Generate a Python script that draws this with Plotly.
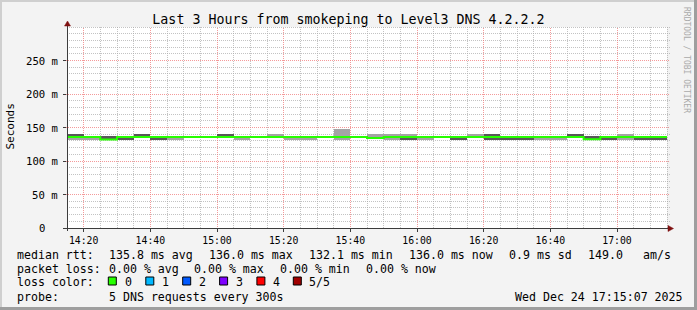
import math
import plotly.graph_objects as go
import pandas as pd

# ---------------- data ----------------
title_text = "Last 3 Hours from smokeping to Level3 DNS 4.2.2.2"
step_start = pd.date_range("2025-12-24 14:15", periods=36, freq="5min")
range_start = pd.Timestamp("2025-12-24 14:15")
range_end = pd.Timestamp("2025-12-24 17:15")

# median rtt per 5-minute step (ms)
median = [136.0, 136.0, 132.1, 136.0, 136.0, 136.0, 136.0, 136.0, 136.0, 136.0,
          136.0, 136.0, 136.0, 136.0, 136.0, 136.0, 136.0, 136.0, 134.2, 136.0,
          136.0, 136.0, 136.0, 136.0, 136.0, 136.0, 136.0, 136.0, 136.0, 136.0,
          136.0, 132.3, 136.0, 136.0, 136.0, 136.0]
# sorted pings: p1 (min), p2, p4, p5 (max)  (ms)
p1 = [131.5, 131.5, 131.0, 131.5, 136.0, 131.5, 131.5, 135.8, 135.8, 136.0,
      131.5, 135.8, 136.0, 131.5, 131.5, 135.8, 131.5, 135.8, 133.0, 131.5,
      131.5, 131.5, 135.8, 131.5, 136.0, 131.5, 131.5, 131.5, 131.5, 131.5,
      136.0, 131.0, 131.5, 131.5, 131.5, 131.5]
p2 = [136.0, 136.0, 131.3, 131.5, 136.0, 131.5, 136.0, 136.0, 136.0, 136.0,
      136.0, 136.0, 136.0, 136.0, 136.0, 136.0, 136.0, 136.0, 134.0, 136.0,
      131.5, 136.0, 136.0, 131.5, 136.0, 131.5, 131.5, 131.5, 136.0, 136.0,
      136.0, 131.3, 131.5, 136.0, 131.5, 131.5]
p4 = [139.8, 136.0, 136.6, 136.0, 139.8, 136.0, 136.0, 136.0, 136.0, 139.8,
      136.0, 136.0, 136.0, 136.0, 136.0, 136.0, 136.0, 136.0, 134.4, 136.0,
      136.0, 136.0, 136.0, 136.0, 136.0, 139.8, 136.0, 136.0, 136.0, 136.0,
      139.8, 137.6, 136.0, 136.0, 136.0, 136.0]
p5 = [139.8, 136.0, 136.6, 136.0, 139.8, 136.0, 136.0, 136.2, 136.2, 139.8,
      136.0, 136.2, 139.8, 136.0, 136.0, 136.2, 147.2, 136.2, 139.6, 139.8,
      139.8, 136.0, 136.2, 136.0, 139.8, 139.8, 136.0, 136.0, 136.0, 136.0,
      139.8, 137.6, 136.0, 139.8, 136.0, 136.0]

y_tick_vals = [0, 50, 100, 150, 200, 250]
y_tick_text = ["0", "50 m", "100 m", "150 m", "200 m", "250 m"]
x_tick_vals = pd.date_range("2025-12-24 14:20", periods=9, freq="20min")
x_tick_text = ["14:20", "14:40", "15:00", "15:20", "15:40", "16:00", "16:20", "16:40", "17:00"]

rtt_labels = ["median rtt:", "135.8 ms avg", "136.0 ms max", "132.1 ms min",
              "136.0 ms now", "0.9 ms sd", "149.0", "am/s"]
loss_labels = ["packet loss:", "0.00 % avg", "0.00 % max", "0.00 % min", "0.00 % now"]
color_labels = ["0", "1", "2", "3", "4", "5/5"]
color_values = ["#26ff00", "#00b8ff", "#0059ff", "#7e00ff", "#ff0000", "#a00000"]
probe_labels = ["probe:", "5 DNS requests every 300s"]
date_label = "Wed Dec 24 17:15:07 2025"
watermark = "RRDTOOL / TOBI OETIKER"

# grid positions
x_minor_grid = pd.date_range("2025-12-24 14:15", "2025-12-24 17:15", freq="5min")
x_major_grid = x_tick_vals
y_minor_grid = list(range(10, 301, 10))
y_major_grid = [50, 100, 150, 200, 250]
Y_MAX = 300

# ---------------- layout geometry ----------------
W, H = 697, 310
L, R, T, B = 67, 30, 27, 82
PW = W - L - R
PH = H - T - B
Y0 = H - B


def PX(px):
    return (px - L) / PW


def PY(py):
    return (Y0 - py) / PH


def time_px(t):
    return L + PW * (t - range_start) / (range_end - range_start)


def val_py(v):
    return Y0 - PH * v / Y_MAX


def crisp(p):
    return math.floor(p) + 0.5


FONT = "DejaVu Sans Mono"
MGRID = "rgba(240,120,120,0.75)"
GRID = "rgba(170,170,170,0.7)"
AXIS = "#3c3c3c"
ARROW = "#7f1010"
LEG = 11.6

fig = go.Figure()

centers = step_start + pd.Timedelta(seconds=150)
outer_h = [b - a for a, b in zip(p1, p5)]
inner_h = [b - a for a, b in zip(p2, p4)]

fig.add_trace(go.Bar(x=centers, y=outer_h, base=p1, width=300000,
                     marker=dict(color="#a4a4a4", line=dict(width=0)),
                     hoverinfo="skip", showlegend=False))
fig.add_trace(go.Bar(x=centers, y=inner_h, base=p2, width=300000,
                     marker=dict(color="#585858", line=dict(width=0)),
                     hoverinfo="skip", showlegend=False))
fig.add_trace(go.Scatter(x=list(step_start) + [range_end], y=median + [median[-1]],
                         mode="lines", line=dict(color=color_values[0], width=2, shape="hv"),
                         hoverinfo="skip", showlegend=False))

shapes = []
# grid lines (snapped to pixel centres)
major_x_set = set(x_major_grid)
for gx in x_minor_grid:
    if gx in major_x_set or gx == range_start:
        continue
    xp = PX(crisp(time_px(gx)))
    shapes.append(dict(type="line", xref="paper", yref="paper", x0=xp, x1=xp, y0=0, y1=1,
                       line=dict(color=GRID, width=1, dash="1px,1px"), layer="below"))
for gy in y_minor_grid:
    if gy in y_major_grid:
        continue
    yp = PY(crisp(val_py(gy)))
    shapes.append(dict(type="line", xref="paper", yref="paper", x0=0, x1=PX(670), y0=yp, y1=yp,
                       line=dict(color=GRID, width=1, dash="1px,1px"), layer="below"))
for gx in x_major_grid:
    xp = PX(crisp(time_px(gx)))
    shapes.append(dict(type="line", xref="paper", yref="paper", x0=xp, x1=xp, y0=PY(231), y1=1,
                       line=dict(color=MGRID, width=1, dash="1px,1px"), layer="below"))
for gy in y_major_grid:
    yp = PY(crisp(val_py(gy)))
    shapes.append(dict(type="line", xref="paper", yref="paper", x0=PX(64), x1=PX(670), y0=yp, y1=yp,
                       line=dict(color=MGRID, width=1, dash="1px,1px"), layer="below"))

# image 3D border
shapes.append(dict(type="rect", xref="paper", yref="paper", x0=PX(0), x1=PX(W), y0=PY(0), y1=PY(2),
                   fillcolor="#cfcfcf", line=dict(width=0), layer="above"))
shapes.append(dict(type="rect", xref="paper", yref="paper", x0=PX(0), x1=PX(2), y0=PY(0), y1=PY(H),
                   fillcolor="#cfcfcf", line=dict(width=0), layer="above"))
shapes.append(dict(type="rect", xref="paper", yref="paper", x0=PX(0), x1=PX(W), y0=PY(H - 3), y1=PY(H),
                   fillcolor="#9e9e9e", line=dict(width=0), layer="above"))
shapes.append(dict(type="rect", xref="paper", yref="paper", x0=PX(W - 3), x1=PX(W), y0=PY(0), y1=PY(H),
                   fillcolor="#9e9e9e", line=dict(width=0), layer="above"))
# axes
shapes.append(dict(type="line", xref="paper", yref="paper", x0=PX(63), x1=PX(670), y0=PY(228.5), y1=PY(228.5),
                   line=dict(color=AXIS, width=1), layer="above"))
shapes.append(dict(type="line", xref="paper", yref="paper", x0=PX(67.5), x1=PX(67.5), y0=PY(231), y1=PY(24),
                   line=dict(color=AXIS, width=1), layer="above"))
shapes.append(dict(type="path", xref="paper", yref="paper",
                   path=f"M {PX(668)},{PY(225.5)} L {PX(673.5)},{PY(228.5)} L {PX(668)},{PY(231.5)} Z",
                   fillcolor=ARROW, line=dict(color=ARROW, width=0.5), layer="above"))
shapes.append(dict(type="path", xref="paper", yref="paper",
                   path=f"M {PX(64.5)},{PY(26)} L {PX(67.5)},{PY(21)} L {PX(70.5)},{PY(26)} Z",
                   fillcolor=ARROW, line=dict(color=ARROW, width=0.5), layer="above"))
# loss colour boxes
box_x = [108.3, 145.8, 182.7, 219.6, 256.9, 293.3]
lab_x = [123.6, 160.9, 197.8, 234.7, 272.0, 308.0]
for bx, c in zip(box_x, color_values):
    shapes.append(dict(type="rect", xref="paper", yref="paper", x0=PX(bx), x1=PX(bx + 8),
                       y0=PY(285), y1=PY(277), fillcolor=c, line=dict(color="#000000", width=1),
                       layer="above"))

annotations = []


def text(px, py, s, size=LEG, anchor="left", color="#000000"):
    annotations.append(dict(x=PX(px), y=PY(py), xref="paper", yref="paper", text=s,
                            showarrow=False, xanchor=anchor, yanchor="middle",
                            font=dict(family=FONT, size=size, color=color)))


# y-axis tick labels (number column right-aligned, unit after it)
for v, s in zip(y_tick_vals, y_tick_text):
    annotations.append(dict(x=PX(60), y=v, xref="paper", yref="y",
                            text=s if " " in s else s + "<span style='color:rgba(0,0,0,0)'>_m</span>",
                            showarrow=False, xanchor="right", yanchor="middle",
                            font=dict(family=FONT, size=10.6, color="#000000")))

rtt_x = [15, 106.6, 206.6, 306.6, 407, 507, 585.7, 641.2]
for px, s in zip(rtt_x, rtt_labels):
    text(px, 254.5, s)
loss_x = [15, 106.6, 192.3, 278, 364.3]
for px, s in zip(loss_x, loss_labels):
    text(px, 268.5, s)
text(15, 282, "loss color:")
for px, s in zip(lab_x, color_labels):
    text(px - 1, 282, s)
probe_x = [15, 106.6]
for px, s in zip(probe_x, probe_labels):
    text(px, 296.5, s)
text(685, 296.5, date_label, anchor="right")

annotations.append(dict(x=PX(10.5), y=PY(127), xref="paper", yref="paper", text="Seconds",
                        showarrow=False, textangle=-90, xanchor="center", yanchor="middle",
                        font=dict(family=FONT, size=11, color="#000000")))
annotations.append(dict(x=PX(687), y=PY(60), xref="paper", yref="paper", text=watermark,
                        showarrow=False, textangle=90, xanchor="center", yanchor="middle",
                        font=dict(family=FONT, size=8, color="#aaaaaa")))

fig.update_layout(
    width=W, height=H,
    margin=dict(l=L, r=R, t=T, b=B, pad=0),
    paper_bgcolor="#f3f3f3", plot_bgcolor="#ffffff",
    barmode="overlay", bargap=0,
    showlegend=False, hovermode=False,
    title=dict(text=title_text, x=348.5 / W, xref="container", xanchor="center",
               y=1 - 19.5 / H, yref="container", yanchor="middle",
               font=dict(family=FONT, size=13.3, color="#000000")),
    shapes=shapes, annotations=annotations,
    xaxis=dict(type="date", range=[range_start, range_end],
               tickmode="array", tickvals=x_tick_vals, ticktext=x_tick_text,
               showgrid=False,
               ticks="outside", ticklen=3, tickcolor=AXIS,
               tickfont=dict(family=FONT, size=9.8, color="#000000"),
               showline=False, zeroline=False),
    yaxis=dict(range=[0, Y_MAX], tickmode="array", tickvals=y_tick_vals,
               showticklabels=False, showgrid=False,
               ticks="outside", ticklen=3, tickcolor=AXIS,
               showline=False, zeroline=False),
)

fig.write_html("out.html")
